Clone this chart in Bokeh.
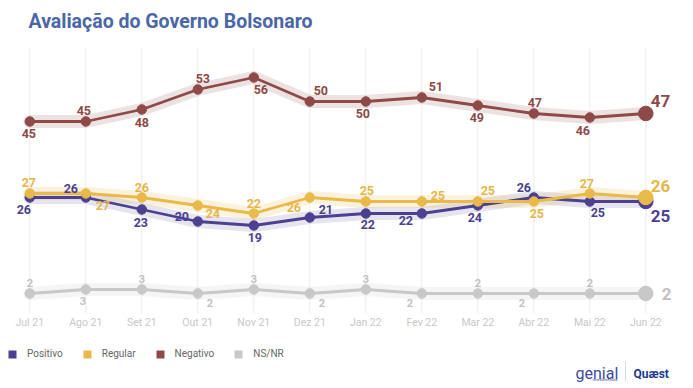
from bokeh.plotting import figure
from bokeh.models import Range1d, LinearAxis, FixedTicker, ColumnDataSource, Legend, LegendItem
from bokeh.core.properties import value
from bokeh.embed import file_html
from bokeh.resources import INLINE

# ---------------- data ----------------
months = ["Jul 21", "Ago 21", "Set 21", "Out 21", "Nov 21", "Dez 21",
          "Jan 22", "Fev 22", "Mar 22", "Abr 22", "Mai 22", "Jun 22"]
positivo = [26, 26, 23, 20, 19, 21, 22, 22, 24, 26, 25, 25]
regular = [27, 27, 26, 24, 22, 26, 25, 25, 25, 25, 27, 26]
negativo = [45, 45, 48, 53, 56, 50, 50, 51, 49, 47, 46, 47]
nsnr = [2, 3, 3, 2, 3, 2, 3, 2, 2, 2, 2, 2]
series_names = ["Positivo", "Regular", "Negativo", "NS/NR"]

# label placement offsets in px (x right, y down) for all points but the last
pos_dx = [-6, -15, -1, -16, 1, 16, 2, -16, -3, -10, 8]
pos_dy = [12, -9, 13, -5, 12, -8, 11, 7, 12, -10, 11]
reg_dx = [-1, 17, 0, 15, 0, -16, 1, 16, 10, 3, -3]
reg_dy = [-11, 12, -10, 8, -10, 10, -11, -6, -11, 12, -10]
neg_dx = [-1, -2, 0, 5, 7, 11, -3, 14, -1, 1, -7]
neg_dy = [12, -11, 13, -11, 12, -11, 12, -11, 12, -11, 13]
ns_dx = [0, -3, 0, 12, 0, 12, 0, -12, 0, -12, 0]
ns_dy = [-11, 11, -11, 9, -11, 9, -11, 9, -11, 9, -11]

POS = "#4b4190"
REG = "#e9b949"
NEG = "#8d4a48"
NS = "#c8c8c8"

# ---------------- geometry ----------------
W, H = 693, 388
X0PX, DXPX = 29.3, 56.0      # px of first month, px per month
PXV = 4.0                    # px per percentage point
YB = H - 301.0               # px from bottom for value 0


def rx(px):  # image pixel -> x data
    return (px - X0PX) / DXPX


def ry(py):  # image pixel (from top) -> y data
    return ((H - py) - YB) / PXV


p = figure(width=W, height=H,
           x_range=Range1d(-X0PX / DXPX, (W - X0PX) / DXPX),
           y_range=Range1d(-YB / PXV, (H - YB) / PXV),
           output_backend="svg", toolbar_location=None,
           x_axis_type=None, y_axis_type=None, min_border=0,
           outline_line_color=None, title=None,
           background_fill_color="white", border_fill_color="white")

idx = list(range(len(months)))

# grid lines
p.segment(x0=idx, y0=[ry(313)] * len(idx), x1=idx, y1=[ry(47)] * len(idx),
          line_color="#ececec", line_width=1)

# x axis
xaxis = LinearAxis(ticker=FixedTicker(ticks=idx),
                   major_label_overrides={i: m for i, m in enumerate(months)},
                   fixed_location=ry(304),
                   axis_line_color=None, major_tick_line_color=None,
                   minor_tick_line_color=None,
                   major_label_text_font="Roboto",
                   major_label_text_font_size="10.5px",
                   major_label_text_color="#c8c8c8",
                   major_label_standoff=5)
p.add_layout(xaxis, "below")

series = [
    # values, color, label color, band alpha, dx, dy, last dx, last dy, label size
    (nsnr, NS, "#c2c2c2", 0.18, ns_dx, ns_dy, 16, 0, "11px"),
    (negativo, NEG, NEG, 0.16, neg_dx, neg_dy, 5, -13, "12.5px"),
    (positivo, POS, POS, 0.14, pos_dx, pos_dy, 5, 14, "12.5px"),
    (regular, REG, "#e6b64a", 0.18, reg_dx, reg_dy, 5, -12, "12.5px"),
]

# bands
for vals, col, lcol, ba, dx, dy, ldx, ldy, fs in series:
    p.line(idx, vals, line_color=col, line_alpha=ba, line_width=13,
           line_join="round", line_cap="round")

# lines & markers
for vals, col, lcol, ba, dx, dy, ldx, ldy, fs in series:
    p.line(idx, vals, line_color=col, line_width=2.8, line_join="round")
    p.scatter(idx[:-1], vals[:-1], size=9.5, fill_color=col, line_color=col)
    p.scatter(idx[-1:], vals[-1:], size=14.5, fill_color=col, line_color=col)

# labels
for vals, col, lcol, ba, dx, dy, ldx, ldy, fs in series:
    src = ColumnDataSource(dict(x=idx[:-1], y=vals[:-1],
                                t=[str(v) for v in vals[:-1]], dx=dx, dy=dy))
    p.text(x="x", y="y", text="t", x_offset="dx", y_offset="dy", source=src,
           text_font=value("Roboto"), text_font_style="bold",
           text_font_size=fs, text_color=lcol,
           text_align="center", text_baseline="middle")
    p.text(x=idx[-1:], y=vals[-1:], text=[str(vals[-1])],
           x_offset=ldx, y_offset=ldy,
           text_font=value("Roboto"), text_font_style="bold",
           text_font_size="17px", text_color=lcol,
           text_align="left", text_baseline="middle")

# title
p.text(x=[rx(28)], y=[ry(21)], text=["Avaliação do Governo Bolsonaro"],
       text_font=value("Roboto"), text_font_style="bold",
       text_font_size="19.5px", text_color="#4a67a6",
       text_align="left", text_baseline="alphabetic")

# legend
nan = float("nan")
items = []
for name, col in zip(series_names, [POS, REG, NEG, NS]):
    r = p.quad(left=[nan], right=[nan], top=[nan], bottom=[nan],
               fill_color=col, line_color=None)
    items.append(LegendItem(label=name, renderers=[r]))
legend = Legend(items=items, orientation="horizontal", location=(7, 29),
                glyph_width=10, glyph_height=10, label_standoff=10, spacing=19,
                padding=0, margin=0, border_line_color=None,
                background_fill_alpha=0, label_text_font="Roboto",
                label_text_font_size="10px", label_text_color="#666666",
                label_height=10)
p.add_layout(legend)

# logos (as text)
p.text(x=[rx(575)], y=[ry(373)], text=["genial"], text_font=value("Roboto"),
       text_font_size="16px", text_color="#3d4a9f",
       text_align="left", text_baseline="alphabetic")
p.text(x=[rx(617)], y=[ry(379)], text=["investimentos"], text_font=value("Roboto"),
       text_font_size="4px", text_color="#3d4a9f",
       text_align="right", text_baseline="alphabetic")
p.segment(x0=[rx(625)], y0=[ry(361)], x1=[rx(625)], y1=[ry(381)],
          line_color="#d3dbef", line_width=1)
p.text(x=[rx(633)], y=[ry(373)], text=["Quæst"], text_font=value("Roboto"),
       text_font_style="bold", text_font_size="12px", text_color="#1d3c8f",
       text_align="left", text_baseline="alphabetic")

open("out.html", "w").write(file_html(p, INLINE))
